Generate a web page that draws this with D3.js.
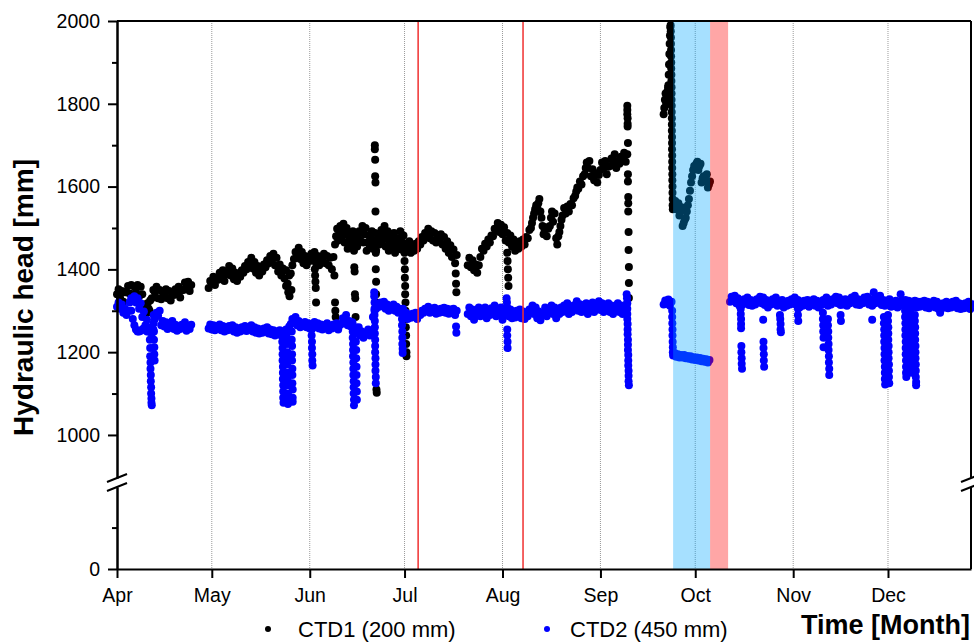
<!DOCTYPE html>
<html>
<head>
<meta charset="utf-8">
<script src="https://cdn.jsdelivr.net/npm/d3@7"></script>
<style>
  html, body { margin: 0; padding: 0; background: #fff; }
  svg { display: block; font-family: "Liberation Sans", Arial, Helvetica, sans-serif; }
</style>
</head>
<body>
<svg id="chart" width="974" height="643"></svg>
<script>
// ---- Data: hydraulic head [mm], days counted from 1 April ----
const startDate = Date.UTC(2021, 3, 1);

const monthLabels = ["Apr", "May", "Jun", "Jul", "Aug", "Sep", "Oct", "Nov", "Dec"];
const monthStartDays = [0, 30, 61, 91, 122, 153, 183, 214, 244];
const lastDay = 270.27;

const yMajorTicks = [1000, 1200, 1400, 1600, 1800, 2000];
const yMinorTicks = [1100, 1300, 1500, 1700, 1900];
const yLowerMajorTicks = [0];
const yLowerMinorTicks = [100];

// readings per day, grouped in continuous runs (from = first day of the run);
// each inner array holds that day's readings, spread evenly over the day
const ctd1Runs = [
  { from: 0, days: [[1340,1352],[1330,1348],[1322,1345],[1345,1360],[1342,1362],[1335,1358],[1345,1362],[1335,1358],[1340,1315],[1300,1295,1318],
                    [1305,1325],[1330,1350],[1345,1358],[1330,1350],[1328,1345],[1340,1352],[1330,1348],[1325,1340],[1338,1352],[1342,1358],
                    [1332,1350],[1350,1368],[1355,1370],[1348,1362]] },
  { from: 29, days: [[1355,1372],[1365,1382],[1362,1378],[1375,1392],[1382,1398],[1372,1388],[1392,1408],[1385,1402],[1376,1392],[1372,1388],
                     [1382,1398],[1392,1408],[1400,1418],[1410,1428],[1402,1418],[1392,1408],[1385,1402],[1395,1412],[1405,1422],[1415,1432],
                     [1420,1438],[1410,1428],[1395,1412],[1385,1402],[1378,1398],[1365,1385],[1390,1410],[1425,1442],[1435,1452],[1425,1442],
                     [1415,1432],[1410,1428],[1420,1438],[1425,1442],[1415,1432],[1410,1428],[1420,1438],[1415,1432],[1410,1428],[1400,1430],
                     [1460,1480,1498],[1470,1490,1505],[1475,1495,1510],[1465,1485,1500],[1450,1470,1485],[1455,1475,1492],[1445,1465,1482],[1455,1475,1492],[1470,1490,1505],[1465,1485,1500],
                     [1445,1465,1482],[1455,1475,1492],[1450,1470,1488],[1445,1465,1482],[1460,1480,1495],[1470,1490,1505],[1455,1475,1492],[1445,1465,1482],[1450,1470,1488],[1440,1458,1475],
                     [1455,1475,1492],[1448,1465,1482],[1442,1462],[1448,1468],[1440,1458],[1445,1462],[1450,1468],[1460,1478],[1470,1488],[1480,1498],
                     [1475,1492],[1470,1488],[1465,1482],[1468,1485],[1460,1478],[1450,1468],[1440,1458],[1430,1448],[1415,1435]] },
  { from: 111, days: [[1410,1428],[1405,1422],[1398,1412],[1392,1410],[1430,1450],[1445,1462],[1455,1472],[1465,1482],[1480,1498],[1495,1512],
                      [1490,1508],[1485,1502],[1470,1488],[1465,1482],[1455,1472],[1445,1462],[1450,1468],[1455,1472],[1460,1478],[1475,1495],
                      [1500,1512,1525],[1535,1545,1555],[1550,1560,1570],[1540,1525,1505],[1485,1495,1502],[1480,1498],[1505,1525,1540],[1515,1535],[1475,1460,1480],[1490,1505,1520],
                      [1530,1548],[1535,1552],[1540,1558],[1555,1572],[1578,1588,1598],[1595,1612],[1605,1625],[1630,1645,1658],[1645,1662],[1625,1642],
                      [1615,1632],[1610,1628],[1640,1658],[1645,1662],[1630,1648],[1650,1668],[1660,1678],[1645,1662],[1655,1672],[1665,1682],
                      [1660,1678]] },
  { from: 176, days: [[1550,1558,1565],[1545,1552,1560],[1530,1540,1550],[1505,1512,1520],[1525,1540,1555],[1570,1590,1610],[1625,1640,1650],[1645,1655,1660],[1640,1650,1655],[1610,1620,1625],
                      [1615,1625,1630],[1598,1605,1612]] }
];

// rapid changes within a day: [day, head]
const ctd1Events = [
  [8.5,1310],[9.5,1295],[10.3,1300],
  [53.5,1360],[54.2,1345],[54.6,1335],[55.2,1350],
  [62.6,1400],[62.7,1385],[62.8,1370],[62.9,1355],[63.0,1320],
  [68.8,1385],[69.0,1320],[69.1,1300],[69.2,1285],
  [75.1,1405],[75.2,1395],[75.3,1340],[75.4,1330],[75.5,1285],
  [81.6,1700],[81.6,1690],[81.7,1665],[81.7,1625],[81.8,1610],[81.8,1540],[81.9,1455],[81.9,1440],[81.9,1400],
  [82.0,1370],[82.0,1340],[82.1,1320],[82.1,1110],[82.2,1102],
  [91.0,1440],[91.0,1420],[91.1,1400],[91.1,1380],[91.2,1360],[91.2,1340],[91.3,1320],[91.3,1300],[91.4,1280],
  [91.4,1260],[91.5,1240],[91.5,1220],[91.6,1200],[91.6,1190],
  [107.2,1390],[107.3,1365],[107.4,1345],
  [123.5,1440],[123.6,1420],[123.7,1400],[123.8,1380],[123.9,1360],
  [161.5,1795],[161.5,1785],[161.5,1775],[161.6,1765],[161.6,1752],[161.6,1745],[161.7,1705],[161.7,1630],
  [161.7,1612],[161.8,1575],[161.8,1560],[161.8,1540],[161.9,1490],[161.9,1447],[162.0,1406],[162.0,1367],[162.0,1331],
  [173.0,1775],[173.2,1790],[173.4,1810],[173.6,1825],[173.8,1800],[174.0,1815],[174.2,1830],[174.4,1840],
  [174.5,1845],[174.6,1870],[174.7,1895],[174.8,1920],[174.9,1945],[175.0,1965],[175.1,1985],[175.2,1990],
  [175.25,1975],[175.3,1960],[175.3,1945],[175.35,1930],[175.35,1915],[175.4,1900],[175.4,1885],[175.45,1870],
  [175.45,1855],[175.5,1840],[175.5,1825],[175.5,1810],[175.55,1795],[175.55,1780],[175.6,1765],[175.6,1750],
  [175.6,1735],[175.65,1720],[175.65,1705],[175.65,1690],[175.7,1675],[175.7,1660],[175.7,1645],[175.75,1630],
  [175.75,1615],[175.8,1600],[175.8,1585],[175.85,1570],[175.85,1555],[175.9,1545]
];

const ctd2Runs = [
  { from: 0, days: [[1310,1320],[1305,1315],[1295,1305],[1290,1300],[1320,1330],[1325,1335],[1320,1330],[1305,1318],[1285,1298],[1265,1278],
                    [1250,1260],[1245,1255],[1280,1295],[1288,1300],[1265,1275],[1262,1272],[1256,1266],[1265,1275],[1256,1266],[1252,1262],
                    [1256,1266],[1262,1272],[1252,1262],[1256,1266]] },
  { from: 29, days: [[1257,1267],[1255,1265],[1253,1263],[1257,1267],[1253,1263],[1250,1260],[1253,1263],[1255,1265],[1250,1260],[1247,1257],
                     [1250,1260],[1253,1263],[1251,1261],[1255,1265],[1250,1260],[1247,1257],[1245,1255],[1247,1257],[1250,1260],[1245,1255],
                     [1243,1253],[1240,1250],[1243,1253],[1240,1250],[1245,1255],[1250,1262],[1268,1280],[1274,1285],[1265,1275],[1260,1270],
                     [1263,1273],[1260,1270],[1257,1267],[1263,1273],[1260,1270],[1257,1267],[1255,1265],[1260,1270],[1253,1263],[1257,1267],
                     [1260,1270],[1255,1265],[1268,1282],[1278,1290],[1265,1275],[1262,1272],[1250,1260],[1250,1260],[1240,1250],[1235,1245],
                     [1245,1255],[1240,1250],[1285,1300],[1305,1315],[1310,1320],[1312,1322],[1305,1315],[1300,1310],[1305,1315],[1300,1310],
                     [1295,1305],[1295,1305],[1285,1295],[1280,1290],[1283,1293],[1285,1295],[1280,1290],[1290,1300],[1295,1305],[1300,1310],
                     [1295,1305],[1297,1307],[1293,1303],[1295,1305],[1297,1307],[1295,1305],[1293,1303],[1295,1305],[1290,1300]] },
  { from: 111, days: [[1292,1308],[1287,1303],[1278,1294],[1292,1308],[1287,1303],[1292,1308],[1282,1298],[1290,1306],[1297,1313],[1287,1303],
                      [1292,1308],[1278,1294],[1292,1308],[1287,1303],[1282,1298],[1284,1300],[1287,1303],[1282,1298],[1280,1296],[1287,1303],
                      [1297,1313],[1292,1308],[1282,1298],[1277,1293],[1292,1308],[1287,1303],[1297,1313],[1292,1308],[1282,1298],[1292,1308],
                      [1297,1313],[1302,1318],[1292,1308],[1297,1313],[1307,1323],[1300,1316],[1297,1313],[1302,1318],[1292,1308],[1304,1320],
                      [1297,1313],[1307,1323],[1302,1318],[1297,1313],[1302,1318],[1297,1313],[1292,1308],[1302,1318],[1297,1313],[1292,1308],
                      [1302,1318]] },
  { from: 173, days: [[1315,1325],[1317,1327],[1312,1322]] },
  { from: 176, days: [[1192,1198],[1189,1195],[1187,1193],[1187,1193],[1185,1191],[1184,1190],[1182,1188],[1181,1187],[1180,1186],[1178,1184],
                      [1177,1183],[1175,1181]] },
  { from: 194, days: [[1322,1334],[1324,1336],[1318,1330],[1312,1324],[1315,1328],[1318,1332],[1314,1326],[1312,1324],[1315,1328],[1322,1334],
                      [1318,1332],[1314,1326],[1308,1322],[1315,1328],[1318,1332],[1312,1324],[1314,1326],[1308,1322],[1312,1324],[1315,1328],
                      [1318,1332],[1314,1326],[1308,1322],[1312,1324],[1314,1326],[1310,1324],[1315,1328],[1312,1324],[1308,1322],[1314,1326],
                      [1318,1332],[1312,1324],[1315,1328],[1322,1334],[1318,1332],[1314,1326],[1315,1328],[1312,1324],[1318,1332],[1324,1336],
                      [1315,1328],[1314,1326],[1318,1332],[1322,1334],[1315,1328],[1312,1324],[1318,1332],[1324,1336],[1314,1326],[1312,1324],
                      [1315,1328],[1310,1322],[1312,1324],[1308,1322],[1312,1324],[1314,1326],[1312,1324],[1308,1322],[1312,1324],[1308,1322],
                      [1310,1322],[1312,1324],[1308,1322],[1306,1318],[1312,1324],[1308,1322],[1304,1316],[1306,1318],[1308,1322],[1306,1318],
                      [1308,1322],[1312,1324],[1306,1318],[1304,1316],[1306,1318],[1308,1322],[1304,1316]] }
];

const ctd2Events = [
  [4.5,1300],[5.0,1280],[5.5,1265],[6.0,1255],[6.5,1250],[7.0,1250],[7.5,1252],[8.0,1255],[8.5,1258],[9.5,1250],
  [10.4,1230],[10.5,1210],[10.5,1190],[10.6,1175],[10.6,1160],[10.7,1145],[10.7,1130],[10.8,1115],[10.8,1100],
  [10.9,1088],[10.9,1078],[11.0,1072],
  [11.6,1290],[11.6,1270],[11.7,1250],[11.7,1230],[11.8,1212],[11.8,1195],[11.9,1180],
  [52.3,1240],[52.3,1225],[52.4,1210],[52.4,1195],[52.4,1180],[52.5,1165],[52.5,1150],[52.5,1135],[52.6,1120],
  [52.6,1105],[52.6,1090],[52.7,1078],
  [53.8,1235],[53.8,1220],[53.9,1200],[53.9,1185],[53.9,1170],[54.0,1150],[54.0,1135],[54.0,1120],[54.1,1100],
  [54.1,1085],[54.1,1075],
  [55.3,1250],[55.3,1230],[55.4,1215],[55.4,1195],[55.4,1180],[55.5,1160],[55.5,1145],[55.5,1125],[55.6,1110],
  [55.6,1090],[55.6,1080],
  [61.6,1255],[61.6,1240],[61.7,1225],[61.7,1210],[61.8,1195],[61.8,1180],[61.9,1168],
  [74.6,1250],[74.6,1235],[74.7,1220],[74.7,1205],[74.7,1190],[74.8,1175],[74.8,1160],[74.8,1145],[74.9,1130],
  [74.9,1115],[74.9,1100],[75.0,1085],[75.0,1072],
  [75.6,1245],[75.6,1225],[75.7,1205],[75.7,1185],[75.8,1165],[75.8,1145],[75.8,1125],[75.9,1105],[75.9,1085],
  [81.4,1345],[81.4,1335],[81.5,1320],[81.5,1305],[81.5,1290],[81.6,1275],[81.6,1260],[81.6,1245],[81.7,1230],
  [81.7,1215],[81.7,1200],[81.8,1185],[81.8,1170],[81.8,1155],[81.9,1140],[81.9,1125],
  [90.2,1280],[90.2,1265],[90.3,1250],[90.3,1235],[90.3,1220],[90.4,1208],[90.4,1198],
  [107.3,1262],[107.4,1247],
  [123.3,1330],[123.4,1320],[123.5,1255],[123.5,1240],[123.6,1225],[123.6,1210],
  [161.3,1340],[161.4,1330],[161.4,1318],[161.5,1305],[161.5,1292],[161.5,1280],[161.6,1268],[161.6,1255],
  [161.6,1243],[161.7,1230],[161.7,1218],[161.7,1205],[161.8,1193],[161.8,1180],[161.8,1168],[161.9,1155],
  [161.9,1143],[161.9,1130],[162.0,1120],
  [175.7,1300],[175.7,1285],[175.75,1270],[175.8,1255],[175.8,1240],[175.85,1225],[175.9,1212],[175.9,1200],
  [197.4,1305],[197.4,1292],[197.5,1280],[197.5,1268],[197.5,1258],[197.6,1215],[197.6,1200],[197.7,1185],
  [197.7,1172],[197.8,1160],
  [204.5,1278],[204.6,1225],[204.6,1210],[204.7,1195],[204.7,1180],[204.8,1165],
  [209.8,1290],[209.9,1280],[210.0,1268],[210.0,1255],[210.1,1248],
  [215.5,1305],[215.5,1290],[215.6,1275],
  [223.4,1295],[223.4,1280],[223.5,1265],[223.5,1250],[223.6,1235],[223.6,1212],
  [225.0,1280],[225.0,1265],[225.1,1250],[225.1,1235],[225.2,1220],[225.2,1205],[225.3,1190],[225.3,1175],
  [225.4,1160],[225.4,1145],
  [229.0,1290],[229.1,1275],
  [239.0,1278],[239.5,1345],[248.0,1340],
  [242.7,1285],[242.7,1270],[242.8,1255],[242.8,1240],[242.8,1225],[242.9,1210],[242.9,1195],[242.9,1180],
  [243.0,1165],[243.0,1150],[243.0,1135],[243.1,1122],
  [244.0,1290],[244.0,1275],[244.1,1260],[244.1,1245],[244.1,1230],[244.2,1215],[244.2,1200],[244.2,1185],
  [244.3,1170],[244.3,1155],[244.3,1140],[244.4,1125],
  [249.4,1300],[249.4,1285],[249.5,1270],[249.5,1255],[249.5,1240],[249.6,1225],[249.6,1210],[249.6,1195],
  [249.7,1180],[249.7,1165],[249.7,1150],[249.8,1140],
  [251.0,1300],[251.0,1285],[251.1,1270],[251.1,1255],[251.1,1240],[251.2,1225],[251.2,1210],[251.2,1195],
  [251.3,1180],[251.3,1165],[251.3,1150],
  [252.5,1290],[252.5,1275],[252.6,1260],[252.6,1245],[252.6,1230],[252.7,1215],[252.7,1200],[252.7,1185],
  [252.8,1170],[252.8,1155],[252.8,1140],[252.9,1128],[252.9,1120],
  [260.5,1295]
];

// marked periods
const eventLineDays = [95.3, 128.5];
const shadedPeriods = [
  { from: 176.0, to: 187.7, color: "rgb(0,166,255)" },
  { from: 187.7, to: 193.4, color: "rgb(255,0,0)" }
];

const seriesInfo = [
  { label: "CTD1 (200 mm)", color: "#000000", runs: ctd1Runs, events: ctd1Events },
  { label: "CTD2 (450 mm)", color: "#0000ff", runs: ctd2Runs, events: ctd2Events }
];

// ---- Layout ----
const plot = { left: 117, right: 971, top: 21, bottom: 569, breakUpper: 478, breakLower: 487 };

const dayToDate = d => new Date(startDate + d * 864e5);

const x = d3.scaleUtc()
  .domain([dayToDate(0), dayToDate(lastDay)])
  .range([plot.left, plot.right]);

const yUpper = d3.scaleLinear().domain([896, 2000]).range([plot.breakUpper, plot.top]);
const yLower = d3.scaleLinear().domain([0, 198]).range([plot.bottom, plot.breakLower]);

const svg = d3.select("#chart");

// month gridlines
svg.append("g")
  .selectAll("line")
  .data(monthStartDays.slice(1))
  .join("line")
  .attr("x1", d => x(dayToDate(d))).attr("x2", d => x(dayToDate(d)))
  .attr("y1", plot.top).attr("y2", plot.bottom)
  .attr("stroke", "#9a9a9a").attr("stroke-width", 1).attr("stroke-dasharray", "1,1");

// scatter points: readings of a day are spread evenly over that day
const toPoints = s => s.runs
  .flatMap(r => r.days.flatMap((readings, i) =>
    readings.map((v, j) => [r.from + i + j / readings.length, v])))
  .concat(s.events);

seriesInfo.forEach(s => {
  svg.append("g")
    .selectAll("circle")
    .data(toPoints(s))
    .join("circle")
    .attr("cx", d => x(dayToDate(d[0])))
    .attr("cy", d => yUpper(d[1]))
    .attr("r", 4)
    .attr("fill", s.color);
});

// shaded periods (translucent, over the data)
svg.append("g")
  .selectAll("rect")
  .data(shadedPeriods)
  .join("rect")
  .attr("x", d => x(dayToDate(d.from)))
  .attr("width", d => x(dayToDate(d.to)) - x(dayToDate(d.from)))
  .attr("y", plot.top).attr("height", plot.bottom - plot.top)
  .attr("fill", d => d.color).attr("fill-opacity", 0.35);

// event lines
svg.append("g")
  .selectAll("line")
  .data(eventLineDays)
  .join("line")
  .attr("x1", d => x(dayToDate(d))).attr("x2", d => x(dayToDate(d)))
  .attr("y1", plot.top).attr("y2", plot.bottom)
  .attr("stroke", "#f03030").attr("stroke-width", 1.5);

// ---- Axes ----
const tickFont = "19.5px";
function styleAxis(g) {
  g.selectAll(".domain").attr("stroke", "#000").attr("stroke-width", 2);
  g.selectAll(".tick line").attr("stroke", "#000").attr("stroke-width", 2);
  g.selectAll(".tick text").attr("fill", "#000").style("font-size", tickFont);
}

// y axis, upper segment
svg.append("g").attr("transform", `translate(${plot.left},0)`)
  .call(d3.axisLeft(yUpper).tickValues(yMajorTicks).tickSize(9).tickSizeOuter(0).tickPadding(8).tickFormat(d3.format("d")))
  .call(styleAxis);
svg.append("g").attr("transform", `translate(${plot.left},0)`)
  .call(d3.axisLeft(yUpper).tickValues(yMinorTicks).tickSize(5).tickSizeOuter(0).tickFormat(""))
  .call(styleAxis);
// y axis, lower segment
svg.append("g").attr("transform", `translate(${plot.left},0)`)
  .call(d3.axisLeft(yLower).tickValues(yLowerMajorTicks).tickSize(9).tickSizeOuter(0).tickPadding(8).tickFormat(d3.format("d")))
  .call(styleAxis);
svg.append("g").attr("transform", `translate(${plot.left},0)`)
  .call(d3.axisLeft(yLower).tickValues(yLowerMinorTicks).tickSize(5).tickSizeOuter(0).tickFormat(""))
  .call(styleAxis);

// x axis
svg.append("g").attr("transform", `translate(0,${plot.bottom})`)
  .call(d3.axisBottom(x)
    .tickValues(monthStartDays.map(dayToDate))
    .tickSize(9).tickSizeOuter(0).tickPadding(10)
    .tickFormat((d, i) => monthLabels[i]))
  .call(styleAxis);

// frame: top and right
svg.append("line")
  .attr("x1", plot.left).attr("x2", plot.right).attr("y1", plot.top).attr("y2", plot.top)
  .attr("stroke", "#000").attr("stroke-width", 2);
svg.append("line")
  .attr("x1", plot.right).attr("x2", plot.right).attr("y1", plot.top).attr("y2", plot.breakUpper)
  .attr("stroke", "#000").attr("stroke-width", 2);
svg.append("line")
  .attr("x1", plot.right).attr("x2", plot.right).attr("y1", plot.breakLower).attr("y2", plot.bottom)
  .attr("stroke", "#000").attr("stroke-width", 2);

// axis-break marks
[plot.left, plot.right].forEach(cx => {
  const mid = (plot.breakUpper + plot.breakLower) / 2;
  [-4.5, 4.5].forEach(off => {
    svg.append("line")
      .attr("x1", cx - 10).attr("y1", mid + off + 4)
      .attr("x2", cx + 10).attr("y2", mid + off - 4)
      .attr("stroke", "#000").attr("stroke-width", 2);
  });
});

// axis titles
svg.append("text")
  .attr("transform", `translate(33,${(158 + 437) / 2}) rotate(-90)`)
  .attr("text-anchor", "middle")
  .style("font-size", "28px").style("font-weight", "bold")
  .text("Hydraulic head [mm]");

svg.append("text")
  .attr("x", 970).attr("y", 634)
  .attr("text-anchor", "end")
  .style("font-size", "27px").style("font-weight", "bold")
  .text("Time [Month]");

// legend
const legendX = [268, 547];
const legend = svg.append("g");
seriesInfo.forEach((s, i) => {
  legend.append("circle")
    .attr("cx", legendX[i]).attr("cy", 629).attr("r", 3)
    .attr("fill", s.color);
  legend.append("text")
    .attr("x", legendX[i] + (i === 0 ? 30 : 23)).attr("y", 637)
    .style("font-size", "22px")
    .text(s.label);
});
</script>
</body>
</html>
